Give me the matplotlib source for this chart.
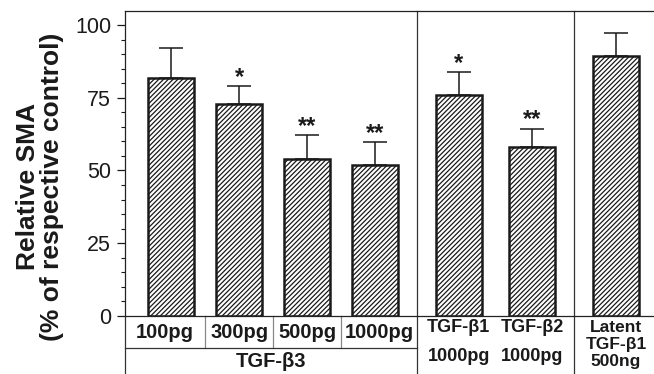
import matplotlib

matplotlib.use("Agg")
import matplotlib.pyplot as plt
from matplotlib.ticker import MultipleLocator

plt.rcParams["font.family"] = ["Liberation Sans", "DejaVu Sans"]
plt.rcParams["hatch.linewidth"] = 0.9
plt.rcParams["hatch.color"] = "#333333"

# values (% of respective control)
doses_b3 = ["100pg", "300pg", "500pg", "1000pg"]
means = [81.7, 72.7, 53.8, 51.9, 75.8, 58.2, 89.5]
errors = [10.5, 6.3, 8.5, 7.8, 8.0, 6.2, 7.9]
stars = ["", "*", "**", "**", "*", "**", ""]

# bar positions: four TGF-b3 doses, then the two other isoforms, then latent
positions = [0, 1, 2, 3, 4.23, 5.31, 6.54]
width = 0.68

fig = plt.figure(figsize=(6.54, 3.74), dpi=100)
ax = fig.add_axes([0.1911, 0.155, 0.8089, 0.8156])

ax.bar(positions, means, width=width, color="white", edgecolor="#1a1a1a",
       linewidth=1.8, hatch="///////", zorder=2)
ax.errorbar(positions, means, yerr=[[0] * len(means), errors], fmt="none",
            ecolor="#1a1a1a", elinewidth=1.1, capsize=8.5, capthick=1.1, zorder=3)
for x, m, e, s in zip(positions, means, errors, stars):
    if s:
        ax.text(x, m + e - 1.0, s, ha="center", va="bottom", fontsize=17,
                fontweight="bold", color="#1a1a1a")

ax.set_xlim(-0.68, 7.1)
ax.set_ylim(0, 104.8)
ax.yaxis.set_major_locator(MultipleLocator(25))
ax.yaxis.set_minor_locator(MultipleLocator(5))
ax.tick_params(axis="y", which="major", length=6, width=0.9, labelsize=15.5,
               pad=4, colors="#1a1a1a")
ax.tick_params(axis="y", which="minor", length=3, width=0.8, colors="#1a1a1a")
ax.tick_params(axis="x", bottom=False, labelbottom=False)
ax.spines["right"].set_visible(False)
for side in ("left", "top", "bottom"):
    ax.spines[side].set_linewidth(0.9)
    ax.spines[side].set_color("#222222")

# table of labels below the axis
y_bottom = -19.5
y_mid = -11.0
line_kw = dict(color="#333333", linewidth=0.9, clip_on=False)
ax.plot([-0.68, -0.68], [0, y_bottom], **line_kw)
sep1 = (positions[3] + positions[4]) / 2
sep2 = (positions[5] + positions[6]) / 2
for s in (sep1, sep2):
    ax.plot([s, s], [104.8, y_bottom], **line_kw)
for i in range(3):
    s = (positions[i] + positions[i + 1]) / 2
    ax.plot([s, s], [0, y_mid], color="#888888", linewidth=0.9, clip_on=False)
ax.plot([-0.68, sep1], [y_mid, y_mid], **line_kw)

cells = [-0.68, 0.5, 1.5, 2.5, sep1]
for i, lab in enumerate(doses_b3):
    ax.text((cells[i] + cells[i + 1]) / 2, -5.5, lab, ha="center", va="center",
            fontsize=14.5, fontweight="bold", color="#1a1a1a")
ax.text((-0.68 + sep1) / 2, -15.7, "TGF-β3", ha="center", va="center",
        fontsize=14.5, fontweight="bold", color="#1a1a1a")
for x, name in zip(positions[4:6], ["TGF-β1", "TGF-β2"]):
    ax.text(x, -3.8, name, ha="center", va="center", fontsize=13,
            fontweight="bold", color="#1a1a1a")
    ax.text(x, -14.0, "1000pg", ha="center", va="center", fontsize=13,
            fontweight="bold", color="#1a1a1a")
ax.text(positions[6], -9.8, "Latent\nTGF-β1\n500ng", ha="center", va="center",
        fontsize=12.5, fontweight="bold", linespacing=1.15, color="#1a1a1a")

fig.text(40 / 654, 1 - 187 / 374, "Relative SMA\n(% of respective control)",
         rotation=90, ha="center", va="center", multialignment="center",
         fontsize=19, fontweight="bold", color="#1a1a1a", linespacing=1.0)

fig.savefig("out.png", dpi=100)
